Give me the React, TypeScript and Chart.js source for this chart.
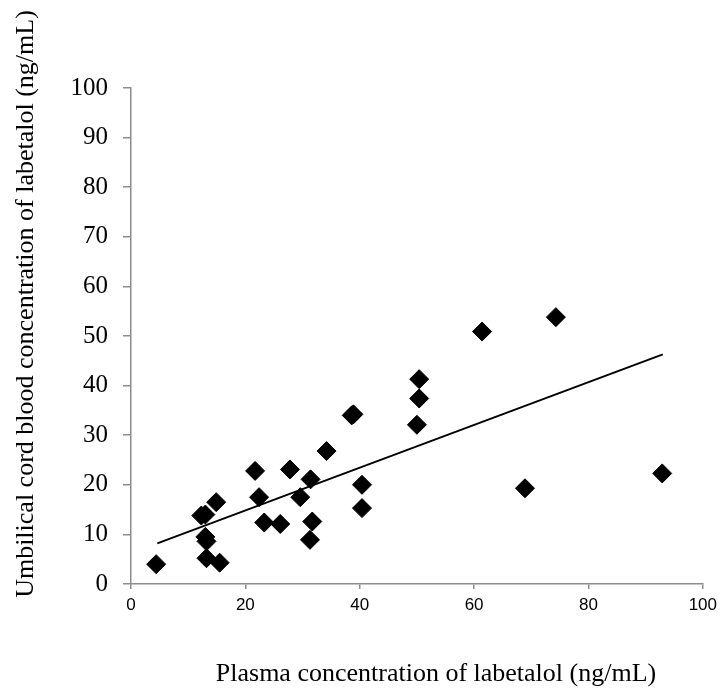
import React, { useEffect, useRef } from "react";
import { Chart, registerables } from "chart.js";

Chart.register(...registerables);

const plasmaConc: number[] = [
  4.4, 12.3, 13.0, 14.9, 13.0, 13.2, 13.2, 15.5, 21.7, 22.4, 23.3, 26.1, 27.8,
  29.6, 31.4, 31.7, 31.3, 34.2, 38.6, 38.9, 40.4, 40.4, 50.0, 50.4, 50.4, 61.4,
  68.9, 74.3, 92.9,
];
const cordConc: number[] = [
  4.0, 13.8, 14.0, 16.5, 9.5, 8.6, 5.2, 4.3, 22.8, 17.5, 12.4, 12.1, 23.1,
  17.5, 21.1, 12.6, 8.9, 26.8, 34.0, 34.2, 20.0, 15.3, 32.1, 37.4, 41.3, 50.9,
  19.3, 53.8, 22.3,
];
const trendX: number[] = [4.6, 93.0];
const trendY: number[] = [8.2, 46.3];

const xTicks: number[] = [0, 20, 40, 60, 80, 100];
const yTicks: number[] = [0, 10, 20, 30, 40, 50, 60, 70, 80, 90, 100];

const xTitle = "Plasma concentration of labetalol (ng/mL)";
const yTitle = "Umbilical cord blood concentration of labetalol (ng/mL)";

const titlePlugin = {
  id: "axisTitles",
  afterDraw(chart: any) {
    const ctx = chart.ctx;
    ctx.save();
    ctx.fillStyle = "#000";
    ctx.font = '26px "Liberation Serif", "Times New Roman", serif';
    ctx.textAlign = "center";
    ctx.textBaseline = "alphabetic";
    ctx.fillText(xTitle, 436, 681);
    ctx.translate(33, 304);
    ctx.rotate(-Math.PI / 2);
    ctx.fillText(yTitle, 0, 0);
    ctx.restore();
  },
};

export default function App() {
  const canvasRef = useRef<HTMLCanvasElement | null>(null);

  useEffect(() => {
    if (!canvasRef.current) return;
    const axisGray = "#8c8c8c";
    const chart = new Chart(canvasRef.current, {
      type: "scatter",
      data: {
        datasets: [
          {
            type: "scatter",
            data: plasmaConc.map((x, i) => ({ x, y: cordConc[i] })),
            pointStyle: "rectRot",
            pointRadius: 9.5,
            pointHoverRadius: 9.5,
            backgroundColor: "#000",
            borderColor: "#000",
            borderWidth: 1,
            clip: false as any,
          },
          {
            type: "line",
            data: trendX.map((x, i) => ({ x, y: trendY[i] })),
            borderColor: "#000",
            borderWidth: 2,
            pointRadius: 0,
            fill: false,
            tension: 0,
          },
        ],
      },
      options: {
        responsive: false,
        animation: false,
        events: [],
        layout: { padding: { top: 88, right: 16, left: 0, bottom: 0 } },
        plugins: {
          legend: { display: false },
          tooltip: { enabled: false },
        },
        scales: {
          x: {
            type: "linear",
            min: 0,
            max: 100,
            afterFit: (s: any) => {
              s.height = 104;
            },
            afterBuildTicks: (s: any) => {
              s.ticks = xTicks.map((v) => ({ value: v }));
            },
            grid: {
              display: true,
              drawOnChartArea: false,
              drawTicks: true,
              tickLength: 5,
              color: axisGray,
              lineWidth: 1.5,
            },
            border: { display: true, color: axisGray, width: 1.5 },
            ticks: {
              color: "#000",
              padding: 6,
              maxRotation: 0,
              font: { family: '"Liberation Sans Narrow", "Arial Narrow", sans-serif', size: 17 },
            },
          },
          y: {
            type: "linear",
            min: 0,
            max: 100,
            afterFit: (s: any) => {
              s.width = 131;
            },
            afterBuildTicks: (s: any) => {
              s.ticks = yTicks.map((v) => ({ value: v }));
            },
            grid: {
              display: true,
              drawOnChartArea: false,
              drawTicks: true,
              tickLength: 8,
              color: axisGray,
              lineWidth: 1.5,
            },
            border: { display: true, color: axisGray, width: 1.5 },
            ticks: {
              color: "#000",
              padding: 15,
              font: { family: '"Liberation Serif", "Times New Roman", serif', size: 25 },
            },
          },
        },
      },
      plugins: [titlePlugin],
    });
    return () => chart.destroy();
  }, []);

  return (
    <div style={{ position: "fixed", left: 0, top: 0, width: 723, height: 688, background: "#fff" }}>
      <canvas ref={canvasRef} width={723} height={688} style={{ display: "block" }} />
    </div>
  );
}
